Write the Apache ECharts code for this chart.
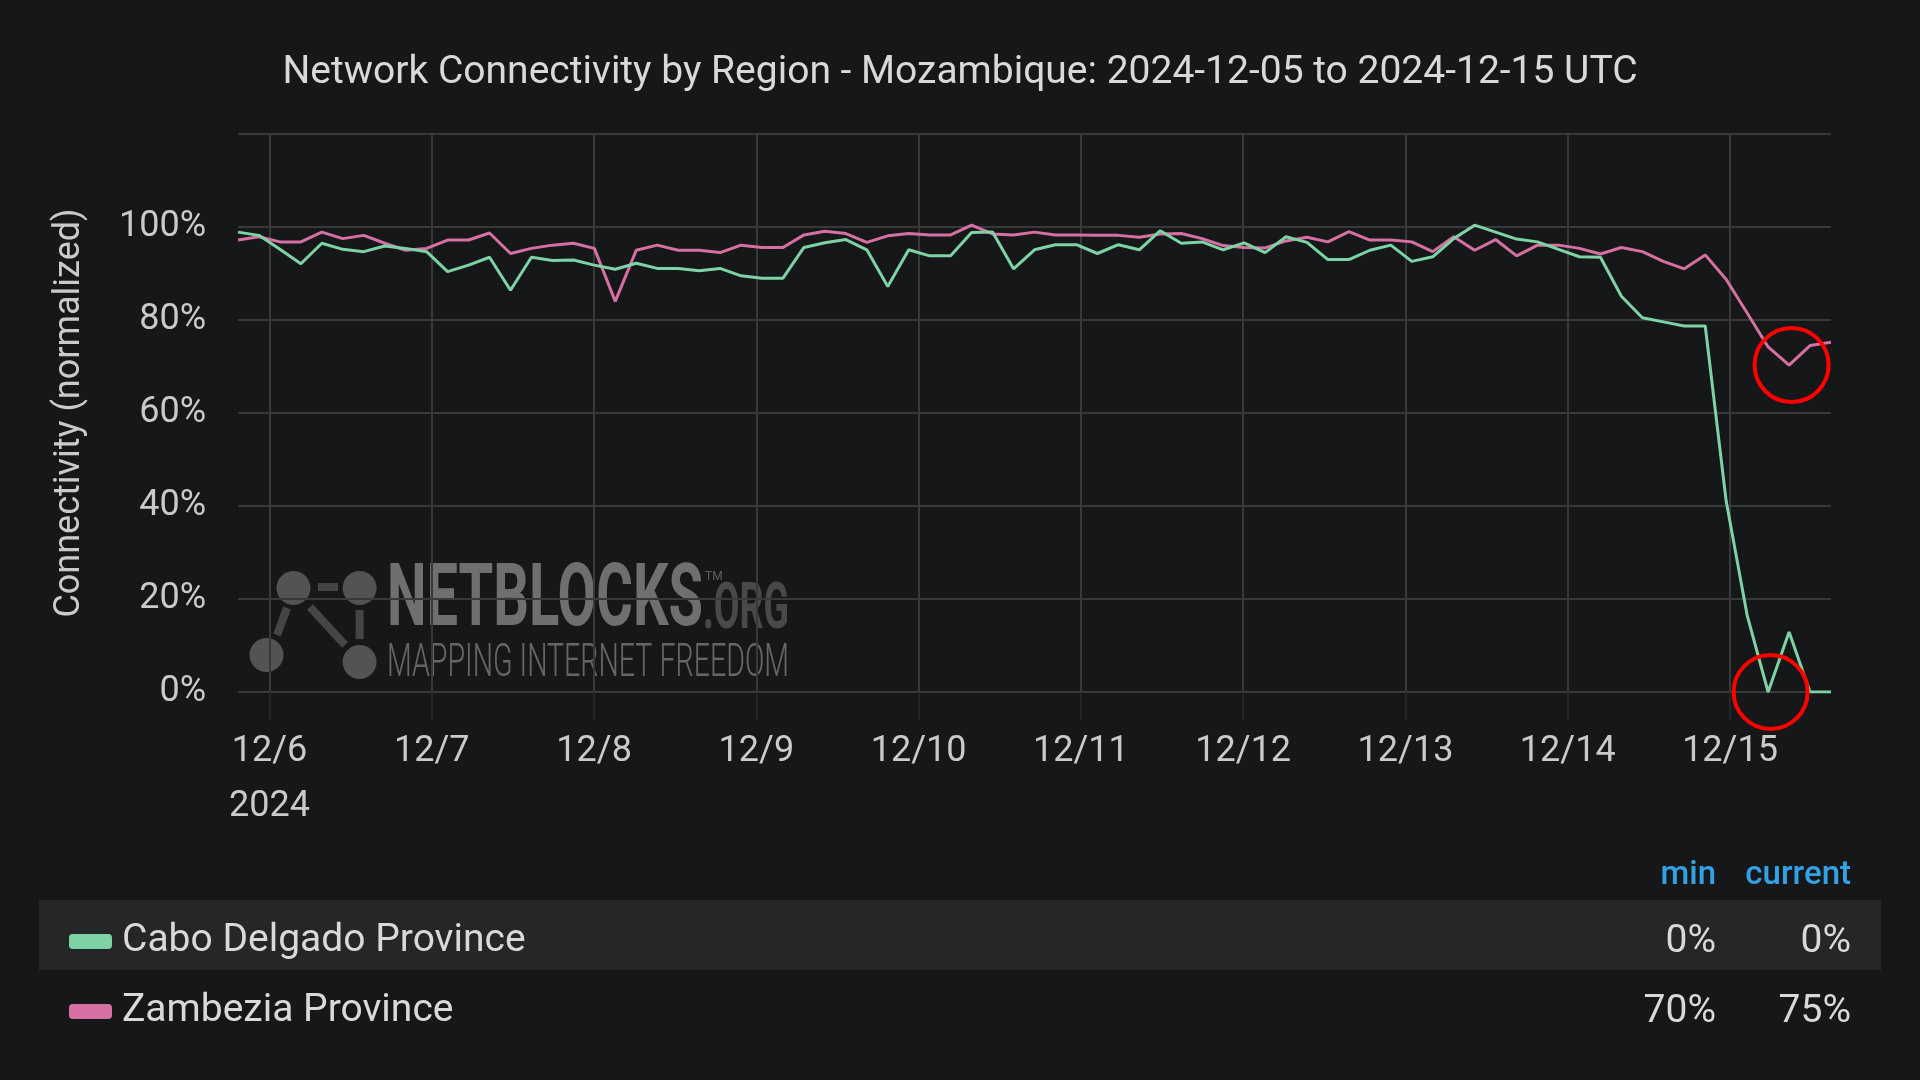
<!DOCTYPE html>
<html>
<head>
<meta charset="utf-8">
<script src="https://cdn.jsdelivr.net/npm/echarts@6/dist/echarts.min.js"></script>
<style>
html,body{margin:0;padding:0;background:#161719;}
#chart{width:1920px;height:1080px;}
</style>
</head>
<body>
<div id="chart"></div>
<script>
// ---------------- data ----------------
const titleText = 'Network Connectivity by Region - Mozambique: 2024-12-05 to 2024-12-15 UTC';
const seriesNames = ['Cabo Delgado Province', 'Zambezia Province'];
const sampleStartUTC = Date.UTC(2024, 11, 5, 19, 20);
const sampleStepMinutes = 186;
const caboDelgado = [
  98.9, 98.2, 95.2, 92.1, 96.5, 95.2, 94.7, 95.9, 95.4, 94.7,
  90.4, 91.8, 93.5, 86.4, 93.5, 92.8, 92.9, 91.8, 90.9, 92.2,
  91.1, 91.1, 90.6, 91.1, 89.5, 89.0, 89.0, 95.6, 96.6, 97.3,
  95.1, 87.2, 95.1, 93.8, 93.8, 98.8, 98.9, 91.0, 95.1, 96.2,
  96.2, 94.3, 96.2, 95.1, 99.2, 96.5, 96.8, 95.1, 96.6, 94.5,
  97.9, 96.7, 93.0, 93.0, 95.0, 96.1, 92.6, 93.6, 97.5, 100.4,
  98.9, 97.4, 96.8, 95.2, 93.6, 93.5, 85.1, 80.5, 79.6, 78.7,
  78.7, 41.0, 16.5, 0, 12.9, 0, 0
];
const zambezia = [
  97.2, 97.9, 96.8, 96.8, 98.9, 97.5, 98.2, 96.5, 95.0, 95.4,
  97.2, 97.2, 98.7, 94.3, 95.4, 96.1, 96.5, 95.4, 84.0, 95.0,
  96.1, 95.0, 95.0, 94.5, 96.1, 95.6, 95.6, 98.3, 99.1, 98.6,
  96.7, 98.1, 98.6, 98.3, 98.3, 100.4, 98.5, 98.3, 98.9, 98.3,
  98.3, 98.2, 98.2, 97.8, 98.5, 98.6, 97.5, 96.0, 95.6, 95.5,
  97.0, 97.8, 96.8, 99.0, 97.2, 97.2, 96.8, 94.7, 97.9, 95.0,
  97.3, 93.8, 96.1, 96.1, 95.4, 94.2, 95.6, 94.7, 92.6, 91.0,
  94.0, 88.7, 81.5, 74.2, 70.3, 74.5, 75.2
];
const dayTickDates = ['2024-12-06','2024-12-07','2024-12-08','2024-12-09','2024-12-10',
                      '2024-12-11','2024-12-12','2024-12-13','2024-12-14','2024-12-15'];
const yTickValues = [0, 20, 40, 60, 80, 100];
const statHeaders = ['min', 'current'];

// ---------------- helpers ----------------
const colors = ['#7dd3a5', '#d670a3'];
const times = caboDelgado.map((_, i) => sampleStartUTC + i * sampleStepMinutes * 60000);
const tMin = times[0], tMax = times[times.length - 1];
const dayTicks = dayTickDates.map(d => Date.parse(d + 'T00:00:00Z'));
const allSeries = [caboDelgado, zambezia];
const pairs = arr => arr.map((v, i) => [times[i], v]);
const minIdx = arr => arr.indexOf(Math.min.apply(null, arr));
const pct = v => Math.round(v) + '%';

const mctx = document.createElement('canvas').getContext('2d');
function fitScale(text, font, w) { mctx.font = font; return w / mctx.measureText(text).width; }

const FONT = 'Roboto';
const axisTextColor = '#c9cacc';

// watermark pieces
const wmFill = a => 'rgba(255,255,255,' + a + ')';
const nbFont = 'bold 88px Roboto';
const orgFont = 'bold 64px Roboto';
const mapFont = '300 46px Roboto';
const watermark = [
  {type:'line', shape:{x1:318,y1:587,x2:338,y2:587}, style:{stroke:wmFill(0.2), lineWidth:8}},
  {type:'line', shape:{x1:287,y1:608,x2:277,y2:635}, style:{stroke:wmFill(0.2), lineWidth:8}},
  {type:'line', shape:{x1:310,y1:607,x2:345,y2:645}, style:{stroke:wmFill(0.2), lineWidth:8}},
  {type:'line', shape:{x1:359.6,y1:610,x2:359.6,y2:639}, style:{stroke:wmFill(0.2), lineWidth:8}},
  {type:'circle', shape:{cx:293.5,cy:588,r:17}, style:{fill:wmFill(0.26)}},
  {type:'circle', shape:{cx:359.6,cy:588,r:17}, style:{fill:wmFill(0.26)}},
  {type:'circle', shape:{cx:266.5,cy:655,r:17}, style:{fill:wmFill(0.26)}},
  {type:'circle', shape:{cx:359.6,cy:662,r:17}, style:{fill:wmFill(0.26)}},
  {type:'text', x:387, y:603, scaleX: fitScale('NETBLOCKS', nbFont, 316),
    style:{text:'NETBLOCKS', x:0, y:0, align:'left', verticalAlign:'middle', font:nbFont, fill:wmFill(0.38)}},
  {type:'text', x:703, y:612, scaleX: fitScale('.ORG', orgFont, 86),
    style:{text:'.ORG', x:0, y:0, align:'left', verticalAlign:'middle', font:orgFont, fill:wmFill(0.22)}},
  {type:'text', x:705, y:577,
    style:{text:'TM', x:0, y:0, align:'left', verticalAlign:'middle', font:'12px Roboto', fill:wmFill(0.3)}},
  {type:'text', x:387, y:664, scaleX: fitScale('MAPPING INTERNET FREEDOM', mapFont, 402),
    style:{text:'MAPPING INTERNET FREEDOM', x:0, y:0, align:'left', verticalAlign:'middle', font:mapFont, fill:wmFill(0.34)}}
];

// legend table extras
const tableRowY = [942, 1012];
const statColX = [1716, 1851];
const tableGraphics = [
  {type:'rect', z:-1, shape:{x:39, y:900, width:1842, height:70}, style:{fill:'#252628'}},
];
statHeaders.forEach((h, j) => tableGraphics.push({type:'text', x:statColX[j], y:876,
  style:{text:h, align:'right', verticalAlign:'middle', font:'500 33px Roboto', fill:'#33a2e5'}}));
allSeries.forEach((arr, i) => {
  const stats = [pct(Math.min.apply(null, arr)), pct(arr[arr.length - 1])];
  stats.forEach((s, j) => tableGraphics.push({type:'text', x:statColX[j], y:tableRowY[i],
    style:{text:s, align:'right', verticalAlign:'middle', font:'39px Roboto', fill:'#d8d9da'}}));
});

const circleMark = (arr) => ({
  silent: true,
  symbol: 'circle',
  symbolSize: 74,
  symbolOffset: [2.5, 0],
  itemStyle: {color: 'rgba(0,0,0,0)', borderColor: '#ff0000', borderWidth: 4},
  label: {show: false},
  data: [{coord: [times[minIdx(arr)], arr[minIdx(arr)]]}]
});

const dayLabel = v => { const d = new Date(v); const s = (d.getUTCMonth() + 1) + '/' + d.getUTCDate();
                        return v === dayTicks[0] ? s + '\n' + d.getUTCFullYear() : s; };

const chart = echarts.init(document.getElementById('chart'), null, {renderer: 'canvas'});
const option = {
  backgroundColor: '#161719',
  animation: false,
  textStyle: {fontFamily: FONT},
  title: {
    text: titleText, left: 'center', top: 49,
    textStyle: {color: '#d8d9da', fontSize: 39, fontWeight: 'normal', fontFamily: FONT}
  },
  grid: [
    {left: 238, right: 89, top: 134, height: 558},
    {left: 238, right: 89, top: 692, height: 28}
  ],
  xAxis: [
    {type: 'value', gridIndex: 0, min: tMin, max: tMax, scale: true,
     axisLine: {show: false}, axisTick: {show: false, customValues: dayTicks},
     axisLabel: {show: false, customValues: dayTicks},
     splitLine: {show: true, lineStyle: {color: '#38393b', width: 2}}},
    {type: 'value', gridIndex: 1, min: tMin, max: tMax, scale: true,
     axisLine: {show: false}, axisTick: {show: false, customValues: dayTicks},
     axisLabel: {customValues: dayTicks, color: axisTextColor, fontSize: 36, margin: 4, lineHeight: 55,
       formatter: dayLabel},
     splitLine: {show: true, lineStyle: {color: '#242527', width: 2}}}
  ],
  yAxis: [
    {type: 'value', gridIndex: 0, min: 0, max: 120, interval: 20,
     axisLine: {show: false}, axisTick: {show: false},
     axisLabel: {color: axisTextColor, fontSize: 36, margin: 32,
       formatter: v => yTickValues.indexOf(v) >= 0 ? v + '%' : ''},
     splitLine: {show: true, lineStyle: {color: '#38393b', width: 2}},
     name: 'Connectivity (normalized)', nameLocation: 'middle', nameGap: 150,
     nameTextStyle: {color: axisTextColor, fontSize: 36}},
    {type: 'value', gridIndex: 1, show: false, min: 0, max: 1}
  ],
  legend: {
    orient: 'vertical', left: 69, top: 922, padding: 0, itemGap: 31,
    itemWidth: 43, itemHeight: 15, icon: 'roundRect', selectedMode: false,
    textStyle: {color: '#d8d9da', fontSize: 39, padding: [0, 0, 0, 5]},
    data: seriesNames
  },
  series: seriesNames.map((name, i) => ({
    name: name, type: 'line', xAxisIndex: 0, yAxisIndex: 0,
    data: pairs(allSeries[i]), showSymbol: false, symbol: 'none',
    lineStyle: {width: 3, color: colors[i]}, itemStyle: {color: colors[i]},
    markPoint: circleMark(allSeries[i]),
    z: 3 - i
  })),
  graphic: watermark.concat(tableGraphics)
};
chart.setOption(option);
</script>
</body>
</html>
